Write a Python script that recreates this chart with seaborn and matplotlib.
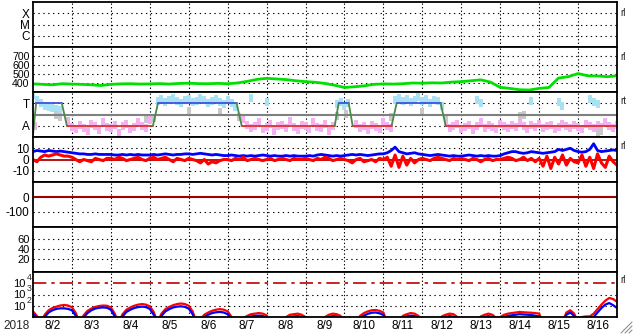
import numpy as np
import pandas as pd
import matplotlib
matplotlib.use("Agg")
import matplotlib.pyplot as plt
import matplotlib.transforms as mtransforms
import seaborn as sns
from matplotlib.lines import Line2D

sns.set_theme(style="white")
plt.rcParams['font.family'] = ['Liberation Sans', 'DejaVu Sans']

# ---------------- data ----------------
YEAR_LABEL = "2018"
DAY_LABELS = ["8/2", "8/3", "8/4", "8/5", "8/6", "8/7", "8/8", "8/9",
              "8/10", "8/11", "8/12", "8/13", "8/14", "8/15", "8/16"]

xray_labels = ["X", "M", "C"]
xray_levels = [-4, -5, -6]

# solar wind speed (km/s), every 0.25 day
speed = [390, 385, 380, 392, 388, 385, 380, 372, 385, 390, 392, 388, 390, 393, 388, 395,
         398, 393, 392, 396, 392, 400, 418, 440, 452, 445, 438, 425, 415, 408, 395, 375,
         350, 358, 368, 385, 390, 388, 392, 400, 398, 402, 400, 410, 415, 425, 435, 410,
         352, 340, 325, 322, 340, 350, 455, 470, 505, 480, 478, 470, 480]

# IMF sector (T=+1, A=-1)
sector_t = [0.0, 0.08, 0.74, 0.87, 3.08, 3.21, 5.23, 5.36, 7.75, 7.85, 8.11, 8.21,
            9.21, 9.34, 10.47, 10.6, 15.0]
sector_v = [-1.8, 1, 1, -1, -1, 1, 1, -1, -1, 1, 1, -1, -1, 1, 1, -1, -1]

away_t = [0.0, 0.05, 0.9, 1.0, 1.1, 1.2, 1.3, 1.4, 1.5, 1.6, 1.7, 1.8, 1.9, 2.0, 2.1, 2.2,
          2.3, 2.4, 2.5, 2.6, 2.7, 2.8, 2.9, 3.0,
          5.4, 5.5, 5.6, 5.7, 5.8, 5.9, 6.0, 6.1, 6.2, 6.3, 6.4, 6.5, 6.6, 6.7, 6.8, 6.9,
          7.0, 7.1, 7.2, 7.3, 7.4, 7.5, 7.6, 7.7,
          8.3, 8.4, 8.5, 8.6, 8.7, 8.8, 8.9, 9.0, 9.1, 9.2,
          10.6, 10.7, 10.8, 10.9, 11.0, 11.1, 11.2, 11.3, 11.4, 11.5, 11.6, 11.7, 11.8,
          11.9, 12.0, 12.1, 12.2, 12.3, 12.4, 12.5, 12.6, 12.7, 12.8, 12.9, 13.0, 13.1,
          13.2, 13.3, 13.4, 13.5, 13.6, 13.7, 13.8, 13.9, 14.0, 14.1, 14.2, 14.3, 14.4,
          14.5, 14.6, 14.7, 14.8, 14.9, 15.0]
away_v = [-0.6, -1.0, -0.6, -1.1, -1.3, -0.9, -1.2, -1.5, -0.8, -1.0, -1.4, -0.7, -1.1,
          -1.2, -0.9, -1.6, -1.0, -0.8, -1.3, -1.1, -0.7, -1.0, -1.2, -0.5,
          -0.4, -0.9, -1.2, -1.0, -0.7, -1.3, -1.1, -0.8, -1.5, -1.0, -0.9, -1.2, -0.6,
          -1.1, -1.4, -0.9, -1.0, -1.3, -0.7, -1.1, -1.2, -0.8, -1.5, -1.0,
          -0.8, -1.2, -1.0, -1.4, -0.9, -1.1, -1.3, -0.7, -1.0, -1.2,
          -0.7, -1.2, -1.0, -0.8, -1.3, -1.1, -0.9, -1.4, -1.0, -0.7, -1.2, -0.9, -1.1,
          -1.3, -0.8, -1.0, -1.2, -0.9, -1.1, -0.7, -1.0, -1.3, -0.9, -1.1, -0.8, -1.2,
          -1.0, -0.9, -1.3, -1.1, -0.8, -1.0, -1.2, -0.9, -1.1, -1.3, -0.8, -1.0, -1.2,
          -0.9, -1.1, -0.7, -1.0, -1.2, -0.9]

toward_t = [0.0, 0.1, 0.2, 0.3, 0.4, 0.5, 0.6, 0.7,
            3.2, 3.3, 3.4, 3.5, 3.6, 3.7, 3.8, 3.9, 4.0, 4.1, 4.2, 4.3, 4.4, 4.5, 4.6, 4.7,
            4.8, 4.9, 5.0, 5.1, 5.2, 5.6, 6.0,
            7.8, 7.9, 8.0, 8.1,
            9.3, 9.4, 9.5, 9.6, 9.7, 9.8, 9.9, 10.0, 10.1, 10.2, 10.3, 10.4, 10.5,
            11.4, 11.5, 12.8, 13.5, 13.6, 14.3, 14.4, 14.5]
toward_v = [1.7, 1.3, 1.0, 0.8, 0.7, 0.6, 0.5, 0.4,
            1.2, 1.4, 1.1, 1.3, 1.5, 1.2, 1.0, 1.3, 1.4, 1.1, 1.2, 1.5, 1.3, 1.0, 1.2, 1.4,
            1.1, 0.9, 1.3, 1.0, 0.7, 1.5, 1.1,
            0.9, 1.1, 0.8, 1.0,
            1.3, 1.5, 1.2, 1.4, 1.1, 1.3, 1.6, 1.2, 1.4, 1.0, 1.3, 1.2, 0.8,
            1.3, 1.0, 1.2, 1.1, 0.8, 1.4, 1.1, 0.9]

mixed_t = [0.6, 0.7, 2.9, 3.1, 4.0, 4.8, 5.3, 7.8, 8.05, 9.2, 10.0, 10.6, 12.5, 12.6, 14.5, 14.6]
mixed_v = [0.0, -0.2, -0.4, -0.3, 0.3, 0.2, -0.2, -0.1, 0.05, -0.2, 0.2, -0.3, -0.1, 0.0, -1.6, -1.5]

# IMF Bt (blue) and Bz (red), nT, every 0.1 day
bt = [7, 8, 7.5, 7, 8, 7.5, 7, 7.5, 7, 6.5,
      6, 5.5, 5, 5, 4.5, 4.5, 5, 4.5, 4.5, 4.5,
      4.5, 4, 4, 4.5, 4, 4.5, 4, 4.5, 4, 4,
      4, 4.5, 4, 4.5, 5, 4.5, 4, 4.5, 4.5, 5,
      5, 4.5, 5, 5.5, 5, 4.5, 4, 4.5, 4, 3.5,
      3.5, 4, 3.5, 3, 3.5, 3, 3.5, 3, 3.5, 4,
      3.5, 3, 3.5, 3, 3, 3.5, 3, 3.5, 3, 3,
      3, 3.5, 3, 4, 4.5, 4, 3.5, 3, 3.5, 3,
      3.5, 4, 4.5, 4, 4.5, 4, 3.5, 4, 4.5, 5,
      5, 6, 8, 11, 7, 6, 5, 5.5, 6, 5,
      4.5, 4, 3.5, 4, 4.5, 4, 3.5, 3, 3.5, 3,
      3, 3.5, 4, 3.5, 3, 3.5, 3, 3.5, 3, 3,
      3.5, 5, 6, 7, 7, 6, 5.5, 6, 7, 6.5,
      6, 5.5, 6, 6.5, 7, 9, 8, 9, 10, 8,
      7, 6.5, 7, 9, 14, 8, 7, 7.5, 8, 8.5, 8]
bz = [0, -2, 2, 4, 3, 4, 5, 4, 3, 3,
      2, 0, -2, 0, -1, -2, 1, 0, -1, 1,
      1, 0, 2, 1, -1, 0, 1, 2, 0, -1,
      1, 2, 0, 1, 2, 0, -2, 1, 0, -1,
      1, 0, -1, -3, 0, -4, -2, -3, -1, 0,
      0, -1, 1, 0, 2, -1, 0, 1, 0, -1,
      0, 1, -1, 0, 1, 0, -1, 1, 0, 0,
      1, 0, -1, 1, 0, 2, 1, -1, 0, 1,
      0, -1, -3, 0, 1, -2, -1, 0, -2, 1,
      0, 2, -6, 4, -7, 3, -5, 1, -3, 0,
      1, 0, -1, 1, 2, 1, 0, -1, 1, 0,
      1, 0, -1, 1, 0, -2, 0, 1, -1, 0,
      0, 1, 2, 1, -1, 0, 2, -1, 1, -2,
      1, -6, 3, -8, 2, -4, 4, -5, 1, -2,
      -3, 4, -6, 2, -8, 5, -3, -7, 3, -2, -5]

dst_ticks = [0, -100]
kp_ticks = [20, 40, 60]

eflux_ticks = [1e2, 1e3, 1e4]
eflux_exponents = ["2", "3", "4"]

# electron flux, log10, every 0.1 day (0.5 = below the plotted floor)
eflux_red_log = [1.5, 1.1, 0.5, 1.2, 1.6, 1.8, 1.92, 2.02, 2.07, 2.02,
                 1.87, 1.35, 0.5, 1.15, 1.55, 1.75, 1.9, 1.98, 2.02, 2.0,
                 1.85, 1.3, 0.5, 1.25, 1.65, 1.85, 2.0, 2.1, 2.15, 2.1,
                 1.95, 1.45, 0.5, 1.3, 1.7, 1.9, 2.05, 2.15, 2.2, 2.15,
                 2.0, 1.5, 0.5, 0.8, 1.2, 1.4, 1.55, 1.65, 1.7, 1.65,
                 1.5, 1.0, 0.5, 0.5, 0.9, 1.1, 1.25, 1.3, 1.35, 1.3,
                 1.15, 0.5, 0.5, 0.5, 0.5, 1.0, 1.2, 1.25, 1.3, 1.2,
                 1.0, 0.5, 0.5, 0.5, 0.5, 1.0, 1.2, 1.3, 1.25, 1.1,
                 0.5, 0.5, 0.5, 0.5, 1.1, 1.35, 1.5, 1.6, 1.62, 1.55,
                 1.4, 0.5, 0.5, 0.5, 0.5, 1.1, 1.25, 1.35, 1.3, 1.1,
                 0.5, 0.5, 0.5, 0.5, 0.5, 1.05, 1.2, 1.3, 1.25, 1.0,
                 0.5, 0.5, 0.5, 0.5, 0.5, 1.05, 1.2, 1.3, 1.2, 0.9,
                 1.0, 1.2, 1.3, 1.35, 1.4, 1.45, 1.42, 1.4, 1.38, 1.35,
                 1.3, 0.5, 0.5, 0.5, 0.5, 0.5, 0.5, 1.4, 1.6, 1.3,
                 0.5, 1.0, 1.05, 1.05, 1.3, 1.7, 2.1, 2.45, 2.69, 2.6, 2.35]
eflux_blue_log = [1.3, 0.9, 0.5, 1.0, 1.4, 1.6, 1.72, 1.77, 1.77, 1.72,
                  1.6, 1.1, 0.5, 0.95, 1.35, 1.6, 1.75, 1.82, 1.85, 1.82,
                  1.65, 1.05, 0.5, 1.05, 1.45, 1.65, 1.8, 1.88, 1.92, 1.88,
                  1.72, 1.2, 0.5, 1.1, 1.5, 1.7, 1.85, 1.92, 1.95, 1.9,
                  1.75, 1.25, 0.5, 0.6, 1.0, 1.2, 1.35, 1.42, 1.45, 1.4,
                  1.25, 0.8, 0.5, 0.5, 0.7, 0.95, 1.05, 1.1, 1.12, 1.08,
                  0.95, 0.5, 0.5, 0.5, 0.5, 0.8, 1.0, 1.05, 1.08, 1.0,
                  0.8, 0.5, 0.5, 0.5, 0.5, 0.8, 1.0, 1.08, 1.05, 0.9,
                  0.5, 0.5, 0.5, 0.5, 0.9, 1.12, 1.28, 1.38, 1.4, 1.33,
                  1.18, 0.5, 0.5, 0.5, 0.5, 0.9, 1.05, 1.12, 1.08, 0.9,
                  0.5, 0.5, 0.5, 0.5, 0.5, 0.85, 1.0, 1.08, 1.02, 0.8,
                  0.5, 0.5, 0.5, 0.5, 0.5, 0.85, 1.0, 1.08, 1.0, 0.7,
                  0.85, 1.0, 1.1, 1.15, 1.2, 1.25, 1.22, 1.2, 1.18, 1.12,
                  1.05, 0.5, 0.5, 0.5, 0.5, 0.5, 0.5, 1.2, 1.4, 1.1,
                  0.5, 0.8, 0.85, 0.85, 1.0, 1.4, 1.8, 2.1, 2.24, 2.05, 1.8]

# ---------------- layout ----------------
W, H = 633, 334
fig = plt.figure(figsize=(W / 100, H / 100), dpi=100)
fig.patch.set_facecolor("white")
L, R = 33, 617
TOP0, PH = 2, 45
axes = []
for i in range(7):
    bot = TOP0 + PH * (i + 1)
    ax = fig.add_axes([L / W, 1 - bot / H, (R - L) / W, PH / H])
    ax.set_facecolor("white")
    ax.set_xlim(0, 15)
    for s in ax.spines.values():
        s.set_color("black")
        s.set_linewidth(1.3)
        s.set_visible(True)
        s.set_zorder(6)
    ax.tick_params(axis="both", length=0, pad=2.5, labelsize=8.5, colors="black")
    ax.set_xticks([])
    ax.grid(False)
    axes.append(ax)

DOT_H = dict(color="black", lw=0.8, linestyle=(0, (1.2, 3.2)), zorder=1)
DOT_V = dict(color="black", lw=0.8, linestyle=(0, (1.2, 2.0)), zorder=1)
for ax in axes:
    for d in range(1, 15):
        ax.axvline(d, **DOT_V)

t01 = np.round(np.arange(0, 15.0001, 0.1), 2)
t025 = np.arange(0, 15.0001, 0.25)

# vertical streak marker for the IMF angle cloud
STREAK = [(-0.5, -1), (0.5, -1), (0.5, 1), (-0.5, 1)]
STREAK_S = 32

# panel 1: X-ray classes
ax = axes[0]
ax.set_ylim(-7, -3)
ax.set_yticks(xray_levels)
ax.set_yticklabels(xray_labels)
for v in xray_levels:
    ax.axhline(v, **DOT_H)

# panel 2: solar wind speed
ax = axes[1]
sns.lineplot(x=t025, y=speed, ax=ax, color="#00e000", lw=2, estimator=None, zorder=3)
ax.set_ylim(300, 800)
ax.set_yticks([400, 500, 600, 700])
ax.set_yticklabels(["400", "500", "600", "700"])
ax.tick_params(axis="y", labelsize=7.6)
for v in [400, 500, 600, 700]:
    ax.axhline(v, **DOT_H)

# panel 3: IMF sector
ax = axes[2]
ax.set_ylim(-2, 2)
for v in [1, -1]:
    ax.axhline(v, **DOT_H)
sns.scatterplot(x=away_t, y=away_v, ax=ax, color="#f4b0f0", marker=STREAK, s=STREAK_S,
                linewidth=0, zorder=2)
sns.scatterplot(x=toward_t, y=toward_v, ax=ax, color="#a8e0f4", marker=STREAK, s=STREAK_S,
                linewidth=0, zorder=2)
sns.scatterplot(x=mixed_t, y=mixed_v, ax=ax, color="#c8c8c8", marker=STREAK, s=STREAK_S,
                linewidth=0, zorder=2)
ax.axhline(0, color="#808080", lw=1.5, zorder=3)
for i in range(len(sector_t) - 1):
    v0, v1 = sector_v[i], sector_v[i + 1]
    if v0 == 1 and v1 == 1:
        c = "#4050e0"
    elif v0 == -1 and v1 == -1:
        c = "#e03030"
    else:
        c = "#4a8a4a"
    sns.lineplot(x=sector_t[i:i + 2], y=sector_v[i:i + 2], ax=ax, color=c, lw=1.3,
                 estimator=None, zorder=4)
ax.set_yticks([1, -1])
ax.set_yticklabels(["T", "A"])

# panel 4: IMF Bt / Bz
ax = axes[3]
ax.set_ylim(-20, 20)
for v in [10, -10]:
    ax.axhline(v, **DOT_H)
ax.axhline(0, color="#b00000", lw=1.3, zorder=2)
sns.lineplot(x=t01, y=bt, ax=ax, color="#0000ff", lw=2, estimator=None, zorder=3)
sns.lineplot(x=t01, y=bz, ax=ax, color="#ff0000", lw=2.2, estimator=None, zorder=4)
ax.set_yticks([10, 0, -10])
ax.set_yticklabels(["10", "0", "-10"])

# panel 5: Dst
ax = axes[4]
ax.set_ylim(-200, 100)
ax.axhline(-100, **DOT_H)
ax.axhline(0, color="#a00000", lw=1.5, zorder=2)
ax.set_yticks(dst_ticks)
ax.set_yticklabels([str(v) for v in dst_ticks])

# panel 6
ax = axes[5]
ax.set_ylim(-4, 82)
for v in kp_ticks:
    ax.axhline(v, **DOT_H)
ax.set_yticks(kp_ticks)
ax.set_yticklabels([str(v) for v in kp_ticks])
ax.tick_params(axis="y", labelsize=8)

# panel 7: electron flux
ax = axes[6]
ax.set_yscale("log")
ax.set_ylim(1e1, 1e5)
for v in [1e2, 1e3]:
    ax.axhline(v, **DOT_H)
ax.axhline(1e4, color="#c00000", lw=1.2, linestyle=(0, (8, 3, 2, 3)), zorder=2)
sns.lineplot(x=t01, y=10 ** np.array(eflux_red_log), ax=ax, color="#ff0000", lw=1.6,
             estimator=None, zorder=3)
sns.lineplot(x=t01, y=10 ** np.array(eflux_blue_log), ax=ax, color="#0000ff", lw=1.6,
             estimator=None, zorder=4)
ax.set_yticks(eflux_ticks)
ax.set_yticklabels(["10"] * len(eflux_ticks))
ax.tick_params(axis="y", labelsize=8, pad=5.2)
ax.minorticks_off()
# exponents as separate small texts, raised just right of each "10"
exp_trans = mtransforms.offset_copy(ax.get_yaxis_transform(), fig=fig,
                                    x=-6.3, y=1.2, units="dots")
for v, e in zip(eflux_ticks, eflux_exponents):
    ax.text(0, v, e, transform=exp_trans, fontsize=6.3, ha="left",
            va="bottom", clip_on=False)
ax.set_xticks(np.arange(15) + 0.5)
ax.set_xticklabels(DAY_LABELS)
ax.tick_params(axis="x", length=0, pad=2, labelsize=8.5)

for ax in axes:
    ax.set_xlim(0, 15)
    ax.set_xlabel("")
    ax.set_ylabel("")
    if ax.get_legend():
        ax.get_legend().remove()

fig.text(3 / W, 1 - 326 / H, YEAR_LABEL, fontsize=8.5, va="center", ha="left")

for ytop, txt in [(13, "rl"), (57, "rl"), (101, "rt"), (146, "rl"), (280, "rl")]:
    fig.text(620 / W, 1 - ytop / H, txt, fontsize=7, va="center", ha="left")

# resize grip
for o in [3, 7, 11]:
    fig.add_artist(Line2D([(632 - o) / W, 632 / W], [1 - 333 / H, 1 - (333 - o) / H],
                          color="#909090", lw=0.8))

fig.savefig("out.png", dpi=100)
